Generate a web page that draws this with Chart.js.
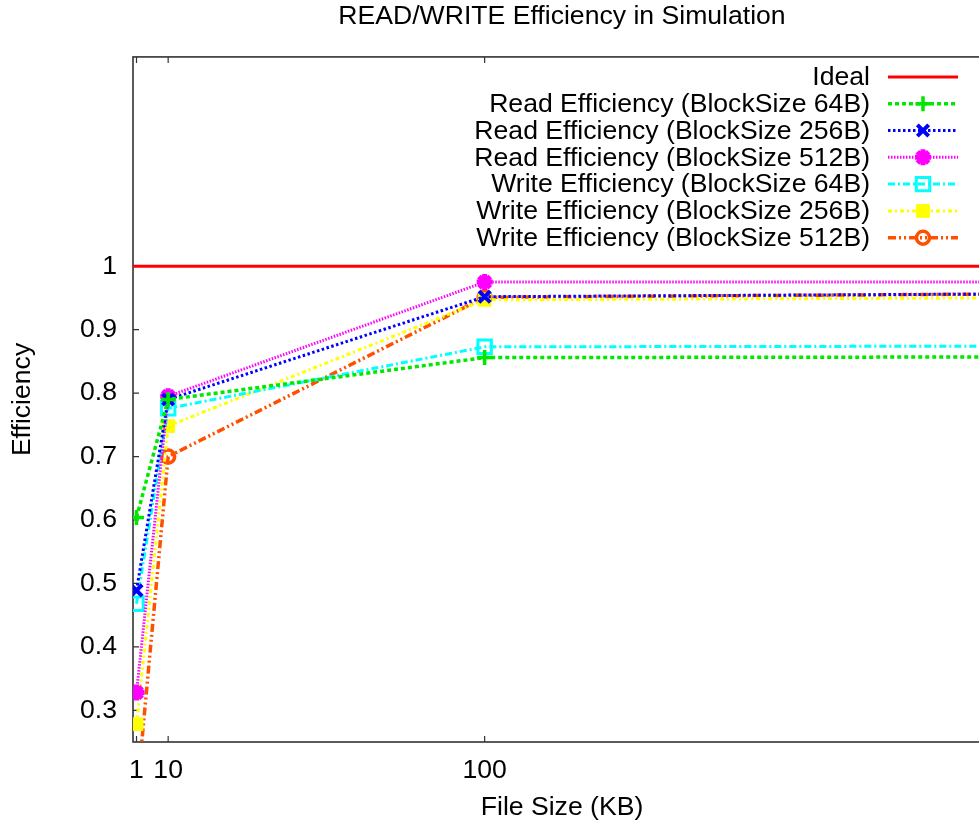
<!DOCTYPE html>
<html>
<head>
<meta charset="utf-8">
<script src="https://cdn.jsdelivr.net/npm/chart.js@4.4.1/dist/chart.umd.min.js"></script>
<style>
  html, body { margin: 0; padding: 0; background: #fff; overflow: hidden; }
  #wrap { width: 1124px; height: 826px; }
</style>
</head>
<body>
<div id="wrap"><canvas id="myChart" width="1124" height="826"></canvas></div>
<script>
// file sizes (KB) and efficiencies
const fileSizes = [1, 10, 100, 1000];
const idealX = [0, 1000];
const idealY = [1, 1];
const readEff64 = [0.604, 0.79, 0.856, 0.862];
const readEff256 = [0.489, 0.79, 0.952, 0.978];
const readEff512 = [0.328, 0.795, 0.975, 0.976];
const writeEff64 = [0.468, 0.776, 0.873, 0.879];
const writeEff256 = [0.278, 0.748, 0.947, 0.966];
const writeEff512 = [0.16, 0.70, 0.951, 0.983];

const xTicks = [1, 10, 100, 1000];
const yTicks = [0.3, 0.4, 0.5, 0.6, 0.7, 0.8, 0.9, 1];

const FONT = "'Liberation Sans', Arial, sans-serif";
const FS = 26.6;
const pts = (xs, ys) => xs.map((x, i) => ({ x: x, y: ys[i] }));

const datasets = [
  { label: 'Ideal', data: pts(idealX, idealY), borderColor: '#ff0000', borderWidth: 3,
    borderDash: [], pointRadius: 0, pointStyle: false },
  { label: 'Read Efficiency (BlockSize 64B)', data: pts(fileSizes, readEff64),
    borderColor: '#00e800', borderWidth: 3.5, borderDash: [4, 3],
    pointStyle: 'cross', pointRadius: 7.5, pointBorderWidth: 3.5, pointBackgroundColor: '#00e800' },
  { label: 'Read Efficiency (BlockSize 256B)', data: pts(fileSizes, readEff256),
    borderColor: '#0000ff', borderWidth: 3, borderDash: [2.5, 2.5],
    pointStyle: 'crossRot', pointRadius: 8, pointBorderWidth: 4, pointBackgroundColor: '#0000ff' },
  { label: 'Read Efficiency (BlockSize 512B)', data: pts(fileSizes, readEff512),
    borderColor: '#ff00ff', borderWidth: 3, borderDash: [1.5, 1.5],
    pointStyle: 'star', pointRadius: 8, pointBorderWidth: 5, pointBackgroundColor: '#ff00ff' },
  { label: 'Write Efficiency (BlockSize 64B)', data: pts(fileSizes, writeEff64),
    borderColor: '#00ffff', borderWidth: 3, borderDash: [7, 3, 2, 3],
    pointStyle: 'rect', pointRadius: 9.5, pointBorderWidth: 3, pointBackgroundColor: 'rgba(0,0,0,0)' },
  { label: 'Write Efficiency (BlockSize 256B)', data: pts(fileSizes, writeEff256),
    borderColor: '#ffff00', borderWidth: 3, borderDash: [4, 3, 2, 3],
    pointStyle: 'rect', pointRadius: 9, pointBorderWidth: 1, pointBackgroundColor: '#ffff00' },
  { label: 'Write Efficiency (BlockSize 512B)', data: pts(fileSizes, writeEff512),
    borderColor: '#ff5000', borderWidth: 3.5, borderDash: [8, 3, 2, 3, 2, 3],
    pointStyle: 'circle', pointRadius: 6.5, pointBorderWidth: 3.5, pointBackgroundColor: 'rgba(0,0,0,0)' },
];
datasets.forEach(d => { d.pointBorderColor = d.borderColor; d.fill = false; d.tension = 0; });

// border box with inward tick marks, like gnuplot
const framePlugin = {
  id: 'frame',
  beforeDatasetsDraw(chart) {
    const { ctx, chartArea: a, scales } = chart;
    ctx.save();
    ctx.strokeStyle = '#333';
    ctx.lineWidth = 1.6;
    ctx.strokeRect(a.left, a.top, a.right - a.left, a.bottom - a.top);
    ctx.lineWidth = 1.2;
    ctx.beginPath();
    xTicks.forEach(v => {
      const px = scales.x.getPixelForValue(v);
      if (px > a.right) return;
      ctx.moveTo(px, a.bottom); ctx.lineTo(px, a.bottom - 6);
      ctx.moveTo(px, a.top); ctx.lineTo(px, a.top + 6);
    });
    yTicks.forEach(v => {
      const py = scales.y.getPixelForValue(v);
      ctx.moveTo(a.left, py); ctx.lineTo(a.left + 6, py);
      ctx.moveTo(a.right, py); ctx.lineTo(a.right - 6, py);
    });
    ctx.stroke();
    ctx.restore();
  }
};

// key in the top right corner: right-aligned text, then line sample with marker
const keyPlugin = {
  id: 'key',
  afterDraw(chart) {
    const { ctx, chartArea: a } = chart;
    const textRight = a.right - 121;
    const x0 = a.right - 103, x1 = a.right - 33;
    ctx.save();
    ctx.font = FS + 'px ' + FONT;
    ctx.textAlign = 'right';
    ctx.textBaseline = 'middle';
    chart.data.datasets.forEach((d, i) => {
      const y = a.top + 20 + i * 26.8;
      ctx.fillStyle = '#000';
      ctx.fillText(d.label, textRight, y + 1);
      ctx.strokeStyle = d.borderColor;
      ctx.lineWidth = d.borderWidth;
      ctx.setLineDash(d.borderDash);
      ctx.beginPath();
      ctx.moveTo(x0, y); ctx.lineTo(x1, y);
      ctx.stroke();
      ctx.setLineDash([]);
      if (d.pointStyle) {
        ctx.fillStyle = d.pointBackgroundColor;
        ctx.lineWidth = d.pointBorderWidth;
        Chart.helpers.drawPoint(ctx, {
          pointStyle: d.pointStyle, radius: d.pointRadius,
          borderWidth: d.pointBorderWidth, rotation: 0
        }, (x0 + x1) / 2, y);
      }
    });
    ctx.restore();
  }
};

const ctx = document.getElementById('myChart').getContext('2d');
new Chart(ctx, {
  type: 'line',
  data: { datasets: datasets },
  plugins: [framePlugin, keyPlugin],
  options: {
    responsive: false,
    animation: false,
    layout: { padding: 0 },
    plugins: {
      legend: { display: false },
      tooltip: { enabled: false },
      title: {
        display: true,
        text: 'READ/WRITE Efficiency in Simulation',
        color: '#000',
        font: { family: FONT, size: FS, weight: 'normal' },
        padding: { top: 1, bottom: 24 }
      }
    },
    scales: {
      x: {
        type: 'linear',
        min: 0,
        max: 244,
        afterBuildTicks: s => { s.ticks = xTicks.filter(v => v <= s.max).map(v => ({ value: v })); },
        afterFit: s => { s.height = 84; s.paddingLeft = 0; s.paddingRight = 0; },
        grid: { display: false, drawTicks: false },
        border: { display: false },
        ticks: {
          autoSkip: false, maxRotation: 0, padding: 13, color: '#000',
          font: { family: FONT, size: FS },
          callback: v => String(v)
        },
        title: {
          display: true, text: 'File Size (KB)', color: '#000',
          font: { family: FONT, size: FS }, padding: { top: 0, bottom: 2 }
        }
      },
      y: {
        type: 'linear',
        min: 0.25,
        max: 1.33,
        afterBuildTicks: s => { s.ticks = yTicks.map(v => ({ value: v })); },
        afterFit: s => { s.width = 133; },
        grid: { display: false, drawTicks: false },
        border: { display: false },
        ticks: {
          padding: 16, color: '#000',
          font: { family: FONT, size: FS },
          callback: v => (v === 1 ? '1' : v.toFixed(1))
        },
        title: {
          display: true, text: 'Efficiency', color: '#000',
          font: { family: FONT, size: FS }, padding: { top: 7, bottom: 0 }
        }
      },
      // empty right-hand margin of the original (wider) plot
      yRight: {
        type: 'linear',
        position: 'right',
        min: 0.25,
        max: 1.33,
        afterFit: s => { s.width = 133; },
        grid: { display: false, drawTicks: false },
        border: { display: false },
        ticks: { display: false }
      }
    }
  }
});
</script>
</body>
</html>
